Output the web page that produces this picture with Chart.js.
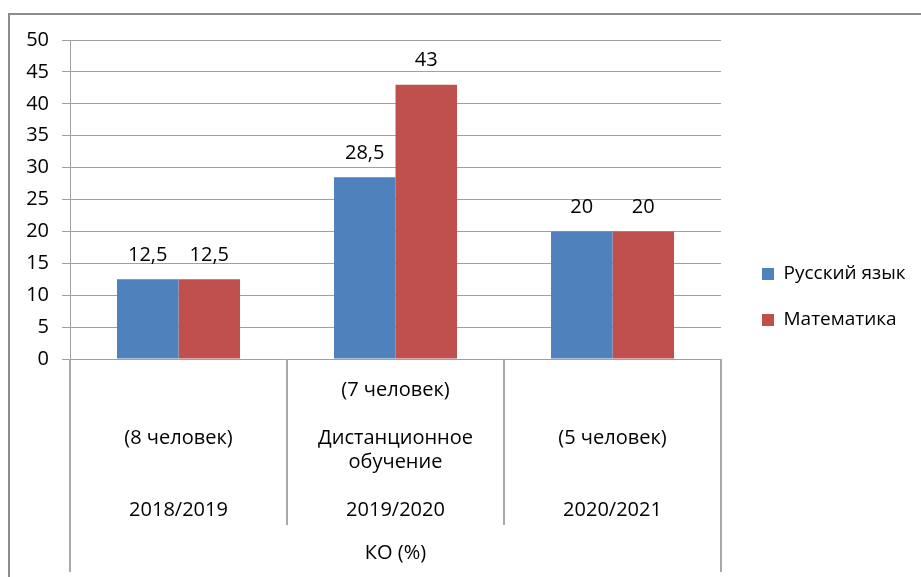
<!DOCTYPE html>
<html>
<head>
<meta charset="utf-8">
<script src="https://cdn.jsdelivr.net/npm/chart.js@4"></script>
<style>
  html, body { margin: 0; padding: 0; background: #fff; }
  #wrap { width: 921px; height: 577px; position: relative; }
</style>
</head>
<body>
<div id="wrap"><canvas id="koChart" width="921" height="577"></canvas></div>
<script>
"use strict";
// data
const years = ['2018/2019', '2019/2020', '2020/2021'];
const groupNotes = ['(8 человек)', '(7 человек)', '(5 человек)'];
const remoteNote = ['Дистанционное', 'обучение'];
const axisTitle = 'КО (%)';
const seriesNames = ['Русский язык', 'Математика'];
const russian = [12.5, 28.5, 20];
const maths = [12.5, 43, 20];
const yMin = 0, yMax = 50, yStep = 5;

// multi-line category labels (year on the last line)
let labels = years.map((y, i) => {
    if (i === 1) {
        return [groupNotes[i], '', remoteNote[0], remoteNote[1], '', y];
    }
    return ['', '', groupNotes[i], '', '', y];
});

const gridColor = '#a0a0a0';
Chart.defaults.font.family = "'Open Sans', sans-serif";
Chart.defaults.font.size = 20;
Chart.defaults.color = '#000';

const framePlugin = {
    id: 'frame',
    beforeDraw(chart) {
        let ctx = chart.ctx;
        ctx.save();
        ctx.strokeStyle = '#8c8c8c';
        ctx.lineWidth = 2;
        ctx.beginPath();
        ctx.moveTo(9, 577);
        ctx.lineTo(9, 14);
        ctx.lineTo(921, 14);
        ctx.stroke();
        ctx.restore();
    },
    afterDraw(chart) {
        // separators between category groups under the axis
        let ctx = chart.ctx;
        let x = chart.scales.x;
        let top = chart.chartArea.bottom;
        ctx.save();
        ctx.strokeStyle = '#a8a8a8';
        ctx.lineWidth = 2;
        for (let i = 0; i <= years.length; i++) {
            let px = Math.round(x.getPixelForValue(i - 0.5));
            let outer = (i === 0 || i === years.length);
            ctx.beginPath();
            ctx.moveTo(px, top);
            ctx.lineTo(px, outer ? 572 : 525);
            ctx.stroke();
        }
        ctx.restore();
    }
};

const valueLabels = {
    id: 'valueLabels',
    afterDatasetsDraw(chart) {
        let ctx = chart.ctx;
        ctx.save();
        ctx.font = "20px 'Open Sans', sans-serif";
        ctx.fillStyle = '#000';
        ctx.textAlign = 'center';
        ctx.textBaseline = 'middle';
        chart.data.datasets.forEach((ds, di) => {
            chart.getDatasetMeta(di).data.forEach((bar, i) => {
                let txt = String(ds.data[i]).replace('.', ',');
                ctx.fillText(txt, bar.x, bar.y - 24);
            });
        });
        ctx.restore();
    }
};

let ctx = document.getElementById('koChart').getContext('2d');
new Chart(ctx, {
    type: 'bar',
    data: {
        labels: labels,
        datasets: [{
                label: seriesNames[0],
                data: russian,
                backgroundColor: '#4F81BD',
                borderWidth: 0
            }, {
                label: seriesNames[1],
                data: maths,
                backgroundColor: '#C0504D',
                borderWidth: 0
            }]
    },
    options: {
        responsive: false,
        animation: false,
        layout: {
            padding: { top: 40, bottom: 23, left: 10, right: 16 }
        },
        datasets: {
            bar: { categoryPercentage: 0.567, barPercentage: 1 }
        },
        scales: {
            x: {
                grid: { display: false, drawTicks: false, tickLength: 0 },
                border: { display: true, color: gridColor },
                ticks: {
                    maxRotation: 0,
                    autoSkip: false,
                    padding: 19,
                    font: { size: 20, lineHeight: '24px' }
                },
                title: {
                    display: true,
                    text: axisTitle,
                    font: { size: 20, lineHeight: '24px' },
                    padding: { top: 19, bottom: -11 }
                },
                afterFit: (s) => { s.height = 195; }
            },
            y: {
                min: yMin,
                max: yMax,
                grid: { color: gridColor, tickLength: 8, drawTicks: true },
                border: { display: true, color: gridColor },
                ticks: { stepSize: yStep, padding: 13, font: { size: 20 } },
                afterFit: (s) => { s.width = 60; }
            },
            gap: {
                type: 'linear',
                position: 'right',
                display: true,
                grid: { display: false, drawTicks: false },
                border: { display: false },
                ticks: { display: false },
                afterFit: (s) => { s.width = 14; }
            }
        },
        plugins: {
            legend: {
                position: 'right',
                maxWidth: 170,
                labels: {
                    boxWidth: 12,
                    boxHeight: 12,
                    padding: 27,
                    color: '#000',
                    font: { size: 19 }
                }
            },
            tooltip: { enabled: false }
        }
    },
    plugins: [framePlugin, valueLabels]
});
</script>
</body>
</html>
